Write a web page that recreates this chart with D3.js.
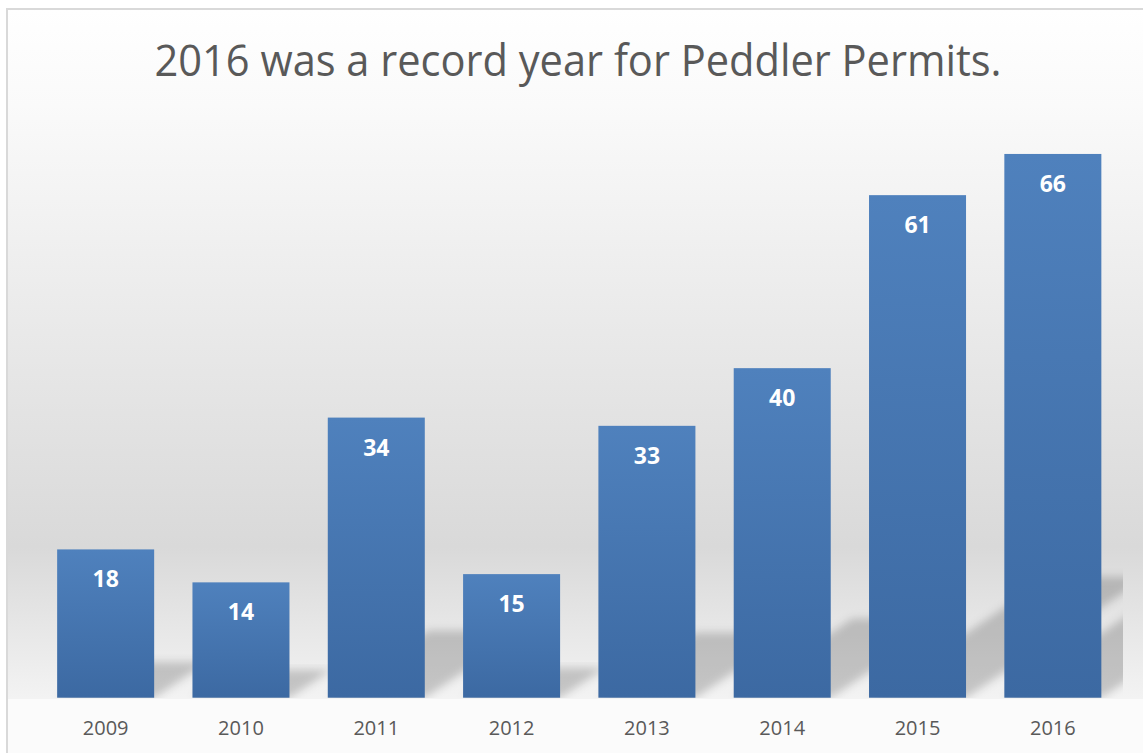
<!DOCTYPE html>
<html>
<head>
<meta charset="utf-8">
<script src="https://cdn.jsdelivr.net/npm/d3@7"></script>
<style>
  body { margin: 0; background: #ffffff; }
  svg { display: block; }
</style>
</head>
<body>
<script>
let years = ["2009", "2010", "2011", "2012", "2013", "2014", "2015", "2016"];
let permits = [18, 14, 34, 15, 33, 40, 61, 66];
let titleText = "2016 was a record year for Peddler Permits.";

let width = 1143, height = 753;
let svg = d3.select("body").append("svg").attr("width", width).attr("height", height);
let defs = svg.append("defs");

// background gradient of the chart area
let bg = defs.append("linearGradient").attr("id", "bgGrad")
    .attr("gradientUnits", "userSpaceOnUse").attr("x1", 0).attr("y1", 9).attr("x2", 0).attr("y2", 699);
bg.append("stop").attr("offset", 0).attr("stop-color", "#ffffff");
bg.append("stop").attr("offset", 0.14).attr("stop-color", "#fafafa");
bg.append("stop").attr("offset", 0.78).attr("stop-color", "#d9d9d9");
bg.append("stop").attr("offset", 1).attr("stop-color", "#f3f3f3");

let barGrad = defs.append("linearGradient").attr("id", "barGrad")
    .attr("x1", 0).attr("y1", 0).attr("x2", 0).attr("y2", 1);
barGrad.append("stop").attr("offset", 0).attr("stop-color", "#4f81bd");
barGrad.append("stop").attr("offset", 1).attr("stop-color", "#3c69a2");

defs.append("filter").attr("id", "blur").attr("x", "-20%").attr("y", "-20%").attr("width", "140%").attr("height", "140%")
    .append("feGaussianBlur").attr("stdDeviation", 4);

let x = d3.scaleBand().domain(years).range([38, 1120.5]).paddingInner(0.283).paddingOuter(0.1415);
let y = d3.scaleLinear().domain([0, 70]).range([697.7, 121]);

defs.append("clipPath").attr("id", "plotClip").append("rect")
    .attr("x", 38).attr("y", 110).attr("width", 1123 - 38).attr("height", 698 - 110);

svg.append("rect").attr("x", 7).attr("y", 9).attr("width", width).attr("height", height)
    .attr("fill", "#fbfbfb").attr("stroke", "#d9d9d9").attr("stroke-width", 2);
svg.append("rect").attr("x", 8).attr("y", 10).attr("width", width).attr("height", 689)
    .attr("fill", "url(#bgGrad)");

svg.append("text").attr("x", 578).attr("y", 76).attr("text-anchor", "middle")
    .attr("font-family", "'Open Sans', sans-serif").attr("font-size", 44).attr("fill", "#595959")
    .attr("textLength", 847).attr("lengthAdjust", "spacingAndGlyphs")
    .text(titleText);

// perspective shadows behind the bars
svg.append("g").attr("clip-path", "url(#plotClip)").selectAll("polygon").data(permits).enter().append("polygon")
    .attr("points", function(d, i) {
        let x0 = x(years[i]), x1 = x0 + x.bandwidth(), base = y(0);
        let sh = (y(0) - y(d)) * 0.24, s = sh * 1.5;
        return [[x0, base], [x1, base], [x1 + s, base - sh], [x0 + s, base - sh]].join(" ");
    })
    .attr("fill", "#000").attr("fill-opacity", 0.19).attr("filter", "url(#blur)");

svg.selectAll("rect.bar").data(permits).enter().append("rect").attr("class", "bar")
    .attr("x", function(d, i) { return x(years[i]); })
    .attr("y", function(d) { return y(d); })
    .attr("width", x.bandwidth())
    .attr("height", function(d) { return y(0) - y(d); })
    .attr("fill", "url(#barGrad)");

svg.selectAll("text.val").data(permits).enter().append("text").attr("class", "val")
    .attr("x", function(d, i) { return x(years[i]) + x.bandwidth() / 2; })
    .attr("y", function(d) { return y(d) + 38; })
    .attr("text-anchor", "middle").attr("font-family", "'Open Sans', sans-serif")
    .attr("font-weight", "bold").attr("font-size", 23).attr("fill", "#ffffff")
    .text(function(d) { return d; });

let xAxis = svg.append("g").attr("transform", "translate(0," + y(0) + ")")
    .call(d3.axisBottom(x).tickSize(0).tickPadding(0));
xAxis.select(".domain").remove();
xAxis.selectAll("text").attr("dy", 0).attr("y", 37)
    .attr("font-family", "'Open Sans', sans-serif").attr("font-size", 20).attr("fill", "#595959");
</script>
</body>
</html>
